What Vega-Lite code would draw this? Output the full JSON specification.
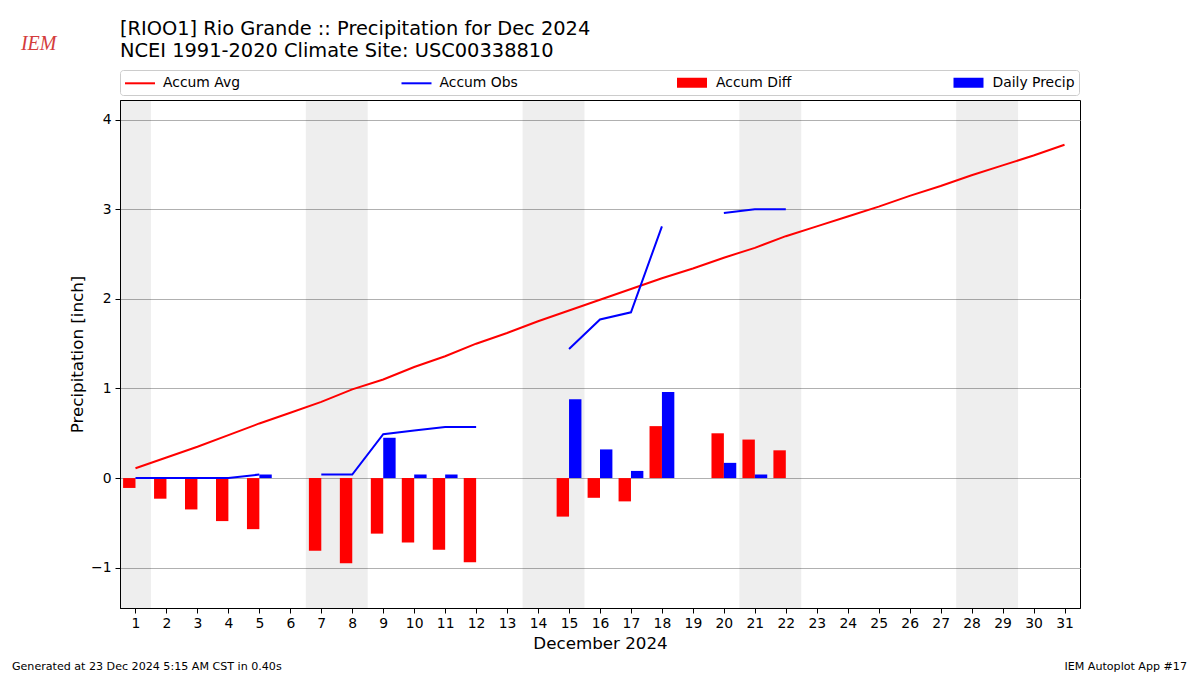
{
  "$schema": "https://vega.github.io/schema/vega-lite/v6.json",
  "width": 960,
  "height": 508,
  "autosize": {"type": "none"},
  "padding": {"left": 120, "top": 100, "right": 120, "bottom": 67},
  "background": "white",
  "config": {
    "view": {"stroke": "black", "strokeWidth": 1},
    "font": "DejaVu Sans",
    "axis": {
      "labelFont": "DejaVu Sans", "labelFontSize": 13.9, "labelColor": "black",
      "titleFont": "DejaVu Sans", "titleFontSize": 16.7, "titleFontWeight": "normal", "titleColor": "black",
      "tickColor": "black", "domainColor": "black", "tickSize": 5, "gridColor": "#b0b0b0", "gridWidth": 1,
      "labelPadding": 3, "labelFlush": false, "labelOverlap": false
    }
  },
  "title": {
    "text": ["[RIOO1] Rio Grande :: Precipitation for Dec 2024", "NCEI 1991-2020 Climate Site: USC00338810"],
    "anchor": "start", "frame": "group", "font": "DejaVu Sans", "fontSize": 19.4, "fontWeight": "normal",
    "color": "black", "lineHeight": 22, "offset": -27
  },
  "data": {"values": [
    {"day": 1, "avg": 0.11, "obs": 0, "diff": -0.11, "daily": 0},
    {"day": 2, "avg": 0.23, "obs": 0, "diff": -0.23, "daily": 0},
    {"day": 3, "avg": 0.35, "obs": 0, "diff": -0.35, "daily": 0},
    {"day": 4, "avg": 0.48, "obs": 0, "diff": -0.48, "daily": 0},
    {"day": 5, "avg": 0.61, "obs": 0.04, "diff": -0.57, "daily": 0.04},
    {"day": 6, "avg": 0.73, "obs": null, "diff": null, "daily": null},
    {"day": 7, "avg": 0.85, "obs": 0.04, "diff": -0.81, "daily": 0},
    {"day": 8, "avg": 0.99, "obs": 0.04, "diff": -0.95, "daily": 0},
    {"day": 9, "avg": 1.10, "obs": 0.49, "diff": -0.62, "daily": 0.45},
    {"day": 10, "avg": 1.24, "obs": 0.53, "diff": -0.72, "daily": 0.04},
    {"day": 11, "avg": 1.36, "obs": 0.57, "diff": -0.80, "daily": 0.04},
    {"day": 12, "avg": 1.50, "obs": 0.57, "diff": -0.94, "daily": 0},
    {"day": 13, "avg": 1.62, "obs": null, "diff": null, "daily": null},
    {"day": 14, "avg": 1.75, "obs": null, "diff": null, "daily": null},
    {"day": 15, "avg": 1.87, "obs": 1.44, "diff": -0.43, "daily": 0.88},
    {"day": 16, "avg": 1.99, "obs": 1.77, "diff": -0.22, "daily": 0.32},
    {"day": 17, "avg": 2.11, "obs": 1.85, "diff": -0.26, "daily": 0.08},
    {"day": 18, "avg": 2.23, "obs": 2.81, "diff": 0.58, "daily": 0.96},
    {"day": 19, "avg": 2.34, "obs": null, "diff": null, "daily": null},
    {"day": 20, "avg": 2.46, "obs": 2.96, "diff": 0.50, "daily": 0.17},
    {"day": 21, "avg": 2.57, "obs": 3.00, "diff": 0.43, "daily": 0.04},
    {"day": 22, "avg": 2.70, "obs": 3.00, "diff": 0.31, "daily": 0},
    {"day": 23, "avg": 2.81, "obs": null, "diff": null, "daily": null},
    {"day": 24, "avg": 2.92, "obs": null, "diff": null, "daily": null},
    {"day": 25, "avg": 3.03, "obs": null, "diff": null, "daily": null},
    {"day": 26, "avg": 3.15, "obs": null, "diff": null, "daily": null},
    {"day": 27, "avg": 3.26, "obs": null, "diff": null, "daily": null},
    {"day": 28, "avg": 3.38, "obs": null, "diff": null, "daily": null},
    {"day": 29, "avg": 3.49, "obs": null, "diff": null, "daily": null},
    {"day": 30, "avg": 3.60, "obs": null, "diff": null, "daily": null},
    {"day": 31, "avg": 3.72, "obs": null, "diff": null, "daily": null}
  ]},
  "layer": [
    {
      "data": {"values": [
        {"s": 0.5, "e": 1.5}, {"s": 6.5, "e": 8.5}, {"s": 13.5, "e": 15.5}, {"s": 20.5, "e": 22.5}, {"s": 27.5, "e": 29.5}
      ]},
      "mark": {"type": "rect", "color": "#000000", "opacity": 0.068},
      "encoding": {
        "x": {"field": "s", "type": "quantitative",
              "scale": {"domain": [0.5, 31.5], "nice": false, "zero": false, "padding": 0},
              "axis": {"title": "December 2024", "grid": false, "format": "d", "titlePadding": 6, "labelOverlap": false,
                       "values": [1,2,3,4,5,6,7,8,9,10,11,12,13,14,15,16,17,18,19,20,21,22,23,24,25,26,27,28,29,30,31]}},
        "x2": {"field": "e"}
      }
    },
    {
      "mark": {"type": "bar", "orient": "vertical", "size": 12.4, "xOffset": -6.2},
      "encoding": {
        "x": {"field": "day", "type": "quantitative",
              "axis": {"title": "December 2024", "grid": false, "format": "d", "titlePadding": 6, "labelOverlap": false,
                       "values": [1,2,3,4,5,6,7,8,9,10,11,12,13,14,15,16,17,18,19,20,21,22,23,24,25,26,27,28,29,30,31]}},
        "y": {"field": "diff", "type": "quantitative"},
        "color": {"datum": "Accum Diff"}
      }
    },
    {
      "mark": {"type": "bar", "orient": "vertical", "size": 12.4, "xOffset": 6.2},
      "encoding": {
        "x": {"field": "day", "type": "quantitative",
              "axis": {"title": "December 2024", "grid": false, "format": "d", "titlePadding": 6, "labelOverlap": false,
                       "values": [1,2,3,4,5,6,7,8,9,10,11,12,13,14,15,16,17,18,19,20,21,22,23,24,25,26,27,28,29,30,31]}},
        "y": {"field": "daily", "type": "quantitative"},
        "color": {"datum": "Daily Precip"}
      }
    },
    {
      "mark": {"type": "line", "strokeWidth": 2, "invalid": "break-paths-show-domains"},
      "encoding": {
        "x": {"field": "day", "type": "quantitative",
              "axis": {"title": "December 2024", "grid": false, "format": "d", "titlePadding": 6, "labelOverlap": false,
                       "values": [1,2,3,4,5,6,7,8,9,10,11,12,13,14,15,16,17,18,19,20,21,22,23,24,25,26,27,28,29,30,31]}},
        "y": {"field": "avg", "type": "quantitative",
              "scale": {"domain": [-1.45, 4.22], "nice": false, "zero": false},
              "axis": {"title": "Precipitation [inch]", "grid": true, "values": [-1, 0, 1, 2, 3, 4], "format": "d", "labelPadding": 4}},
        "color": {
          "datum": "Accum Avg",
          "scale": {"domain": ["Accum Avg", "Accum Obs", "Accum Diff", "Daily Precip"],
                    "range": ["#ff0000", "#0000ff", "#ff0000", "#0000ff"]},
          "legend": {
            "orient": "none", "legendX": 0, "legendY": -30, "direction": "horizontal", "columns": 4,
            "gridAlign": "all", "columnPadding": 152.5, "title": null,
            "labelFont": "DejaVu Sans", "labelFontSize": 13.9, "labelColor": "black", "labelOffset": 22,
            "symbolSize": 225, "symbolStrokeWidth": 2, "strokeColor": "#cccccc", "cornerRadius": 3,
            "padding": 4, "fillColor": "white",
            "encode": {"symbols": {"update": {
              "shape": {"signal": "indexof(['Accum Avg','Accum Obs'], datum.value) >= 0 ? 'M-1,0H3' : 'M-1,-0.533H2.733V0.533H-1Z'"},
              "fill": {"signal": "datum.value === 'Accum Diff' ? '#ff0000' : datum.value === 'Daily Precip' ? '#0000ff' : 'transparent'"},
              "stroke": {"signal": "datum.value === 'Accum Avg' ? '#ff0000' : datum.value === 'Accum Obs' ? '#0000ff' : 'transparent'"},
              "strokeWidth": {"value": 2},
              "opacity": {"value": 1}
            }}}
          }
        }
      }
    },
    {
      "mark": {"type": "line", "strokeWidth": 2, "invalid": "break-paths-show-domains"},
      "encoding": {
        "x": {"field": "day", "type": "quantitative",
              "axis": {"title": "December 2024", "grid": false, "format": "d", "titlePadding": 6, "labelOverlap": false,
                       "values": [1,2,3,4,5,6,7,8,9,10,11,12,13,14,15,16,17,18,19,20,21,22,23,24,25,26,27,28,29,30,31]}},
        "y": {"field": "obs", "type": "quantitative"},
        "color": {"datum": "Accum Obs"}
      }
    },
    {
      "data": {"values": [{}]},
      "mark": {"type": "text", "align": "left", "baseline": "middle", "font": "DejaVu Sans", "fontSize": 11.1, "color": "black"},
      "encoding": {
        "x": {"datum": -2.99, "type": "quantitative",
              "axis": {"title": "December 2024", "grid": false, "format": "d", "titlePadding": 6, "labelOverlap": false,
                       "values": [1,2,3,4,5,6,7,8,9,10,11,12,13,14,15,16,17,18,19,20,21,22,23,24,25,26,27,28,29,30,31]}},
        "y": {"datum": -2.105, "type": "quantitative"},
        "text": {"value": "Generated at 23 Dec 2024 5:15 AM CST in 0.40s"}
      }
    },
    {
      "data": {"values": [{}]},
      "mark": {"type": "text", "align": "right", "baseline": "middle", "font": "DejaVu Sans", "fontSize": 11.1, "color": "black"},
      "encoding": {
        "x": {"datum": 34.955, "type": "quantitative",
              "axis": {"title": "December 2024", "grid": false, "format": "d", "titlePadding": 6, "labelOverlap": false,
                       "values": [1,2,3,4,5,6,7,8,9,10,11,12,13,14,15,16,17,18,19,20,21,22,23,24,25,26,27,28,29,30,31]}},
        "y": {"datum": -2.105, "type": "quantitative"},
        "text": {"value": "IEM Autoplot App #17"}
      }
    },
    {
      "data": {"values": [{}]},
      "mark": {"type": "text", "align": "left", "baseline": "middle", "font": "Liberation Serif", "fontStyle": "italic", "fontSize": 20, "color": "#d43c3c"},
      "encoding": {
        "x": {"datum": -2.7, "type": "quantitative",
              "axis": {"title": "December 2024", "grid": false, "format": "d", "titlePadding": 6, "labelOverlap": false,
                       "values": [1,2,3,4,5,6,7,8,9,10,11,12,13,14,15,16,17,18,19,20,21,22,23,24,25,26,27,28,29,30,31]}},
        "y": {"datum": 4.845, "type": "quantitative"},
        "text": {"value": "IEM"}
      }
    }
  ]
}
